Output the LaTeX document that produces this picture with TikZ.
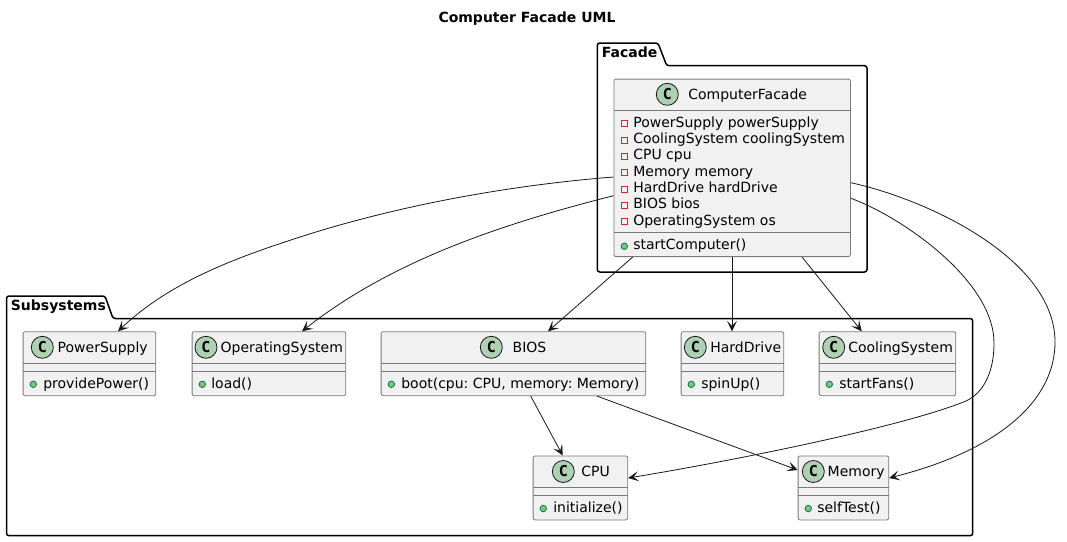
\documentclass[tikz,border=0pt]{standalone}
\usepackage{fontspec}
\setmainfont{DejaVu Sans}
\newfontfamily\cfont{DejaVu Sans Mono}
\usetikzlibrary{arrows.meta,calc}
\frenchspacing
\definecolor{edge}{HTML}{181818}
\definecolor{boxfill}{HTML}{F1F1F1}
\definecolor{boxline}{HTML}{7A7A7A}
\definecolor{spotfill}{HTML}{ADD1B2}
\definecolor{privred}{HTML}{C82930}
\definecolor{pubfill}{HTML}{84BE84}
\definecolor{publine}{HTML}{038048}
\tikzset{
  umltext/.style={inner sep=0pt,outer sep=0pt,anchor=base west,text=black,font=\fontsize{14}{16}\selectfont\frenchspacing},
  titletext/.style={inner sep=0pt,anchor=base,text=black,font=\fontsize{14}{16}\selectfont\bfseries},
  pkgtext/.style={inner sep=0pt,anchor=base west,text=black,font=\fontsize{14}{16}\selectfont\bfseries},
  classbox/.style={draw=boxline,fill=boxfill,line width=0.8pt,rounded corners=2pt,inner sep=0pt,anchor=north west},
  rule/.style={draw=boxline,line width=0.8pt},
  spot/.style={circle,draw=edge,fill=spotfill,line width=0.8pt,minimum size=22pt,inner sep=0pt,font=\cfont\fontsize{15}{15}\selectfont\bfseries,text=black},
  pub/.style={circle,draw=publine,fill=pubfill,line width=0.8pt,minimum size=6.5pt,inner sep=0pt},
  priv/.style={rectangle,draw=privred,line width=0.8pt,minimum size=6pt,inner sep=0pt},
  pkg/.style={draw=black,line width=1.5pt,rounded corners=2.5pt,fill=none},
  assoc/.style={draw=edge,line width=0.8pt,-{Stealth[length=10.5pt,width=10pt,inset=5pt]}},
}
% id, name, x1, x2, ytop, circle x, name x, bullet x, member x (member text in \memberlabel)
\newcommand{\smallclass}[9]{%
  \pgfmathsetmacro{\boxw}{#4-#3}
  \node[classbox,minimum width=\boxw pt,minimum height=64pt] (#1) at (#3,#5) {};
  \draw[rule] ($(#1.north west)+(0,32)$) -- ($(#1.north east)+(0,32)$);
  \draw[rule] ($(#1.north west)+(0,39.7)$) -- ($(#1.north east)+(0,39.7)$);
  \node[spot] (#1-spot) at ($(#1.north west)+(#6-#3,16)$) {C};
  \node[umltext] (#1-name) at ($(#1.north west)+(#7-#3,21)$) {#2};
  \node[pub] (#1-bullet) at ($(#1.north west)+(#8-#3,53)$) {};
  \node[umltext] (#1-member) at ($(#1.north west)+(#9-#3,57)$) {\memberlabel};
}
\begin{document}
\begin{tikzpicture}[x=1pt,y=-1pt]
\useasboundingbox[fill=white] (0,0) rectangle (1067,541);
\node[titletext] (title) at (527,22) {Computer Facade UML};
% packages
\draw[pkg] (597.3,65.7) -- (597.3,43) -- (658,43) -- (666.7,65.7) -- (867,65.7) -- (867,272) -- (597.3,272) -- cycle;
\node[pkgtext] (facadelabel) at (601.7,57.3) {Facade};
\draw[pkg] (6.5,318.5) -- (6.5,296) -- (105,296) -- (113,318.5) -- (972.7,318.5) -- (972.7,535.7) -- (6.5,535.7) -- cycle;
\node[pkgtext] (subsyslabel) at (10.7,310.7) {Subsystems};
% ComputerFacade
\node[classbox,minimum width=236.5pt,minimum height=177.5pt] (cf) at (613.5,78.7) {};
\draw[rule] ($(cf.north west)+(0,31.8)$) -- ($(cf.north east)+(0,31.8)$);
\draw[rule] ($(cf.north west)+(0,153.8)$) -- ($(cf.north east)+(0,153.8)$);
\node[spot] (cf-spot) at (667.3,94.3) {C};
\node[umltext] (cf-name) at (688.3,99.5) {ComputerFacade};
\foreach \i/\t in {0/PowerSupply powerSupply,1/CoolingSystem coolingSystem,2/CPU cpu,3/Memory memory,4/HardDrive hardDrive,5/BIOS bios,6/OperatingSystem os}{
  \node[priv] (cf-mark\i) at (624.3,123.7+16.3*\i) {};
  \node[umltext] (cf-field\i) at (633.3,127.3+16.3*\i) {\t};
}
\node[pub] (cf-bullet) at (624.3,246.3) {};
\node[umltext] (cf-method) at (633.3,249.5) {startComputer()};
% Subsystem classes
\def\memberlabel{providePower()}
\smallclass{ps}{PowerSupply}{22.7}{155.3}{331.3}{42.3}{57.7}{33.3}{43.3}
\def\memberlabel{load()}
\smallclass{os}{OperatingSystem}{191.7}{345.3}{331.3}{206}{220.7}{202.3}{211.3}
\def\memberlabel{boot(cpu: CPU, memory: Memory)}
\smallclass{bios}{BIOS}{380.7}{645.3}{331.3}{491.3}{512.7}{391.3}{401.3}
\def\memberlabel{spinUp()}
\smallclass{hd}{HardDrive}{680.7}{783.3}{331.3}{695.3}{710.3}{691.3}{701.3}
\def\memberlabel{startFans()}
\smallclass{cs}{CoolingSystem}{818.7}{955.3}{331.3}{833.7}{848.3}{829.3}{839.3}
\def\memberlabel{initialize()}
\smallclass{cpu}{CPU}{532.7}{627.3}{455.5}{563.3}{581.3}{543.3}{553.3}
\def\memberlabel{selfTest()}
\smallclass{mem}{Memory}{797.7}{888.3}{455.5}{813.3}{827.7}{808.3}{817.3}
% connectors
\draw[assoc] ($(cf.north west)+(0,98.3)$) .. controls (500,186) and (390,208) .. (300,237) .. controls (235,258) and (170,282) .. ($(ps.north west)+(95.3,0)$);
\draw[assoc] ($(cf.north west)+(0,117)$) .. controls (510,222) and (395,258) .. ($(os.north west)+(110.3,0)$);
\draw[assoc] ($(cf.south west)+(19.2,0)$) -- ($(bios.north west)+(167.3,0)$);
\draw[assoc] ($(cf.south west)+(118.5,0)$) -- ($(hd.north west)+(51.3,0)$);
\draw[assoc] ($(cf.south west)+(188.5,0)$) -- ($(cs.north west)+(43,0)$);
\draw[assoc] ($(cf.north east)+(0,119.6)$) .. controls (900,216) and (994,280) .. (994,343) .. controls (994,370) and (985,392) .. (966,401) .. controls (900,428) and (720,463) .. ($(cpu.north east)+(0,22.5)$);
\draw[assoc] ($(cf.north east)+(0,104)$) .. controls (930,200) and (1055,260) .. (1055,342) .. controls (1055,400) and (1000,450) .. ($(mem.north east)+(0,22.5)$);
\draw[assoc] ($(bios.south west)+(150,0)$) -- ($(cpu.north west)+(30,0)$);
\draw[assoc] ($(bios.south west)+(216.3,0)$) -- ($(mem.north west)+(0,14.5)$);
\end{tikzpicture}
\end{document}
